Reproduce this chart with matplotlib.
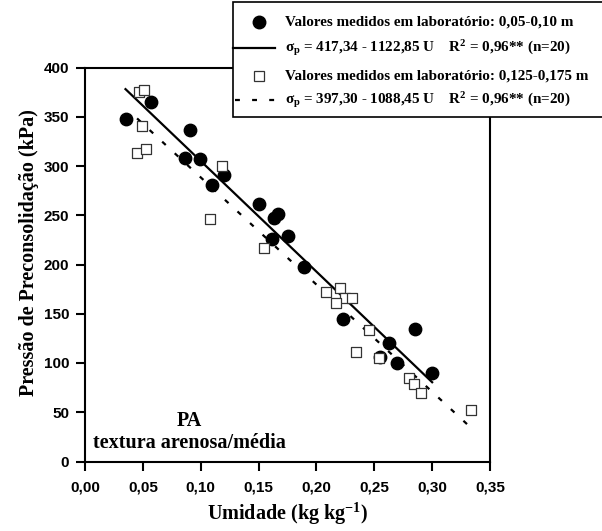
import matplotlib.pyplot as plt
from matplotlib.lines import Line2D
from matplotlib.patches import Rectangle
import numpy as np

plt.rcParams['mathtext.fontset'] = 'custom'
plt.rcParams['mathtext.rm'] = 'Liberation Serif:bold'
plt.rcParams['mathtext.it'] = 'Liberation Serif:bold'
plt.rcParams['mathtext.bf'] = 'Liberation Serif:bold'

# values
u_sup = [0.035, 0.057, 0.091, 0.086, 0.099, 0.110, 0.120, 0.150, 0.163, 0.167,
         0.162, 0.175, 0.189, 0.223, 0.285, 0.263, 0.255, 0.270, 0.300]
sp_sup = [348, 365, 337, 308, 307, 281, 291, 261, 247, 251,
          226, 229, 197, 145, 135, 120, 106, 100, 90]

u_inf = [0.047, 0.051, 0.049, 0.045, 0.053, 0.118, 0.108, 0.155, 0.208, 0.220,
         0.225, 0.231, 0.217, 0.234, 0.245, 0.254, 0.280, 0.284, 0.290, 0.334]
sp_inf = [375, 377, 341, 313, 317, 300, 246, 217, 172, 176,
          166, 166, 161, 111, 133, 105, 85, 79, 70, 52]

# regression lines (intercept, slope) and the range they are drawn over
fit_sup = (417.34, -1122.85)
fit_inf = (397.30, -1088.45)
range_sup = (0.035, 0.30)
range_inf = (0.045, 0.335)

xticks = [0, 0.05, 0.10, 0.15, 0.20, 0.25, 0.30, 0.35]
yticks = [0, 50, 100, 150, 200, 250, 300, 350, 400]

W, H = 602, 531
fig = plt.figure(figsize=(W / 100, H / 100), dpi=100)
ax = fig.add_axes([85 / W, 1 - 461.5 / H, 405 / W, 394 / H])

dash = (0, (2.2, 5.5))

ax.scatter(u_sup, sp_sup, s=80, color='black', zorder=3)
ax.scatter(u_inf, sp_inf, s=55, marker='s', facecolor='white',
           edgecolor='#333333', linewidth=0.9, zorder=4)

xs = np.array(range_sup)
ax.plot(xs, fit_sup[0] + fit_sup[1] * xs, color='black', lw=1.6, zorder=2)
xs = np.array(range_inf)
ax.plot(xs, fit_inf[0] + fit_inf[1] * xs, color='black', lw=1.6,
        linestyle=dash, zorder=2)

ax.set_xlim(0, 0.35)
ax.set_ylim(0, 400)
ax.set_xticks(xticks)
ax.set_yticks(yticks)
ax.set_xticklabels([('%.2f' % t).replace('.', ',') for t in xticks])
ax.set_yticklabels([str(t) for t in yticks])
ax.tick_params(direction='out', length=6.5, width=1.5)
ax.tick_params(axis='x', pad=7)
ax.tick_params(axis='y', pad=5)
for lab in ax.get_xticklabels() + ax.get_yticklabels():
    lab.set_fontfamily('Liberation Sans')
    lab.set_fontweight('bold')
    lab.set_fontsize(11)
for sp in ax.spines.values():
    sp.set_linewidth(1.5)

ax.set_xlabel('Umidade (kg kg$^{-1}$)', family='Liberation Serif',
              weight='bold', fontsize=14.5, labelpad=5)
ax.set_ylabel('Pressão de Preconsolidação (kPa)', family='Liberation Serif',
              weight='bold', fontsize=14.5)
ax.yaxis.set_label_coords(-0.113, 0.53)

ax.text(0.257, 0.103, 'PA', transform=ax.transAxes, ha='center',
        va='center', family='Liberation Serif', weight='bold', fontsize=14.5)
ax.text(0.257, 0.047, 'textura arenosa/média', transform=ax.transAxes,
        ha='center', va='center', family='Liberation Serif', weight='bold',
        fontsize=14.5)


# legend box drawn by hand, in pixel positions
def fx(x):
    return x / W


def fy(y):
    return 1 - y / H


fig.add_artist(Rectangle((fx(232.5), fy(117)), fx(380), 114.5 / H,
                         transform=fig.transFigure, facecolor='white',
                         edgecolor='black', lw=1.2, zorder=10))
fig.add_artist(Line2D([fx(259)], [fy(22)], marker='o', markersize=9,
                      color='black', transform=fig.transFigure, zorder=11))
fig.add_artist(Line2D([fx(233), fx(275)], [fy(48), fy(48)], color='black',
                      lw=1.6, transform=fig.transFigure, zorder=11))
fig.add_artist(Line2D([fx(259)], [fy(76)], marker='s', markersize=7.5,
                      markerfacecolor='white', markeredgecolor='#333333',
                      markeredgewidth=0.9, transform=fig.transFigure, zorder=11))
fig.add_artist(Line2D([fx(235), fx(275)], [fy(100), fy(100)], color='black',
                      lw=1.6, linestyle=dash, transform=fig.transFigure, zorder=11))

leg_txt = ['Valores medidos em laboratório: 0,05-0,10 m',
           r'$\sigma_\mathrm{p}$ = 417,34 - 1122,85 U    R$^2$ = 0,96** (n=20)',
           'Valores medidos em laboratório: 0,125-0,175 m',
           r'$\sigma_\mathrm{p}$ = 397,30 - 1088,45 U    R$^2$ = 0,96** (n=20)']
for txt, yy in zip(leg_txt, [22, 48, 76, 100]):
    fig.text(fx(285), fy(yy), txt, va='center', ha='left',
             family='Liberation Serif', weight='bold', fontsize=10.9, zorder=12)

fig.savefig('out.png', dpi=100)
